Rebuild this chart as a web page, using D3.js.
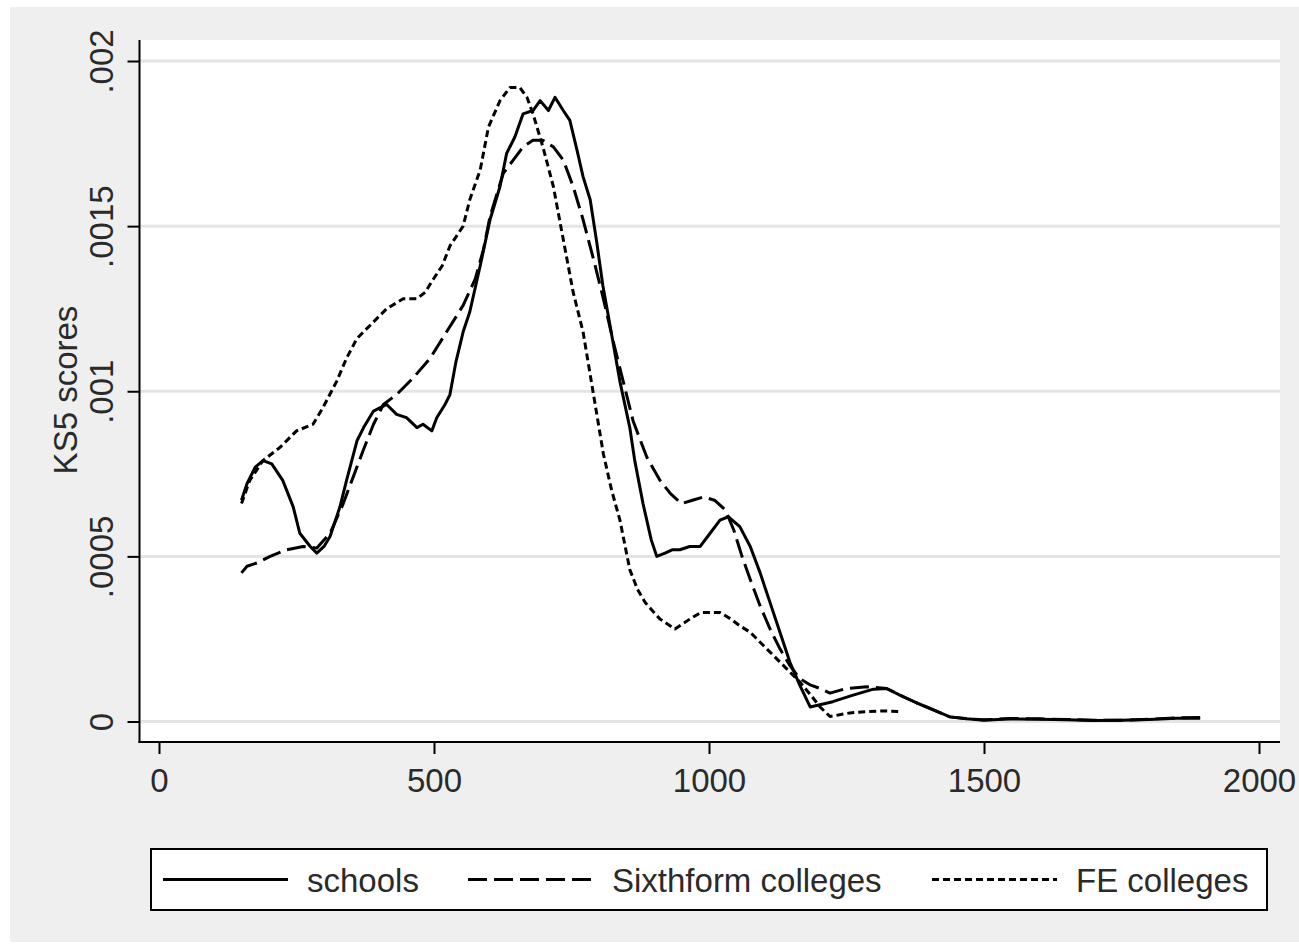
<!DOCTYPE html>
<html>
<head>
<meta charset="utf-8">
<script src="https://cdn.jsdelivr.net/npm/d3@7"></script>
<style>
  body { margin: 0; background: #ffffff; }
  text { font-family: "Liberation Sans", Arial, sans-serif; fill: #2a2a2a; }
</style>
</head>
<body>
<div class="chart"></div>
<script>
// kernel density of KS5 scores
var schools = [[150, .00067], [160, .00072], [175, .00077], [189, .00079], [205, .00078], [225, .00073],
  [244, .00065], [256, .00057], [275, .00053], [287, .00051], [300, .00053], [311, .00056], [329, .00065],
  [341, .00073], [360, .00085], [372, .00089], [390, .00094], [414, .00096], [432, .00093], [450, .00092],
  [469, .00089], [480, .0009], [496, .00088], [505, .00092], [520, .00096], [529, .00099], [540, .00109],
  [553, .00118], [565, .00124], [584, .00138], [602, .00152], [620, .00162], [632, .00172], [647, .00177],
  [662, .00184], [680, .00185], [693, .00188], [708, .00185], [720, .00189], [735, .00185], [747, .00182],
  [760, .00173], [771, .00165], [784, .00158], [796, .00145], [807, .00132], [820, .0012], [838, .00103],
  [856, .00089], [865, .00079], [880, .00066], [895, .00055], [905, .0005], [920, .00051], [933, .00052],
  [947, .00052], [965, .00053], [984, .00053], [1002, .00057], [1020, .00061], [1035, .00062], [1056, .00059],
  [1075, .00053], [1093, .00045], [1111, .00036], [1129, .00027], [1147, .00018], [1165, .00011], [1184, .000044],
  [1225, .00006], [1262, .00008], [1299, .000098], [1323, .0001], [1347, .00008], [1378, .000056], [1408, .000035],
  [1438, .000014], [1469, .000008], [1500, .000004], [1550, .000008], [1600, .000007], [1650, .000005],
  [1700, .000003], [1750, .000004], [1800, .000006], [1850, .00001], [1893, .00001]];

var sixthform = [[150, .00045], [160, .00047], [178, .00048], [202, .0005], [232, .00052], [262, .00053],
  [287, .000525], [311, .00057], [335, .00066], [353, .00074], [371, .00082], [390, .0009], [408, .00096],
  [432, .00099], [462, .00104], [493, .0011], [523, .00118], [553, .00126], [575, .00134], [590, .00143],
  [602, .00153], [626, .00166], [644, .0017], [662, .00174], [680, .00176], [698, .00176], [717, .00174],
  [735, .0017], [753, .00162], [771, .00152], [790, .0014], [808, .00128], [826, .00115], [844, .00103],
  [862, .00091], [887, .0008], [911, .00073], [930, .00069], [950, .00066], [970, .00067], [990, .00068],
  [1010, .00067], [1030, .00064], [1045, .00058], [1060, .0005], [1075, .00043], [1093, .00035], [1111, .00028],
  [1129, .00022], [1147, .00017], [1165, .00013], [1185, .00011], [1202, .0001], [1220, .000086], [1250, .0001],
  [1287, .000105], [1323, .0001], [1347, .00008], [1378, .000056], [1408, .000035], [1438, .000014],
  [1469, .000008], [1500, .000005], [1550, .000009], [1600, .000008], [1650, .000006], [1700, .000004],
  [1750, .000004], [1800, .000007], [1850, .000011], [1893, .000012]];

var feColleges = [[150, .00066], [165, .00073], [189, .00079], [220, .00083], [250, .00088], [280, .0009],
  [298, .00095], [323, .00103], [341, .0011], [360, .00116], [384, .0012], [414, .00125], [444, .00128],
  [469, .00128], [484, .0013], [499, .00134], [515, .00138], [529, .00144], [553, .0015], [565, .00158],
  [584, .00167], [599, .0018], [620, .00188], [638, .00192], [656, .00192], [669, .00189], [680, .00184],
  [698, .00174], [717, .00162], [735, .00146], [753, .0013], [771, .00118], [790, .00099], [808, .00081],
  [823, .0007], [838, .00061], [856, .00046], [870, .0004], [884, .00036], [911, .00031], [938, .00028],
  [965, .00031], [985, .00033], [1002, .00033], [1020, .00033], [1040, .00031], [1056, .00029], [1075, .00027],
  [1093, .00024], [1111, .00021], [1129, .00018], [1147, .00015], [1165, .00012], [1185, .00008], [1202, .000044],
  [1220, .000015], [1256, .000026], [1287, .00003], [1316, .000032], [1351, .00003]];

var seriesNames = ["schools", "Sixthform colleges", "FE colleges"];
var xTicks = [0, 500, 1000, 1500, 2000];
var yTicks = [0, .0005, .001, .0015, .002];
var yTitle = "KS5 scores";

var svgWidth = 1299;
var svgHeight = 949;

// plot region
var plot = { left: 140, right: 1280, top: 40, bottom: 742 };

var svg = d3.select(".chart")
    .append("svg")
    .attr("width", svgWidth)
    .attr("height", svgHeight);

// outer graph background
svg.append("rect")
    .attr("x", 10).attr("y", 7)
    .attr("width", 1289).attr("height", 935)
    .attr("fill", "#efefef");

svg.append("rect")
    .attr("x", plot.left).attr("y", plot.top)
    .attr("width", plot.right - plot.left).attr("height", plot.bottom - plot.top)
    .attr("fill", "#ffffff");

var xScale = d3.scaleLinear().domain([0, 2000]).range([159, 1259]);
var yScale = d3.scaleLinear().domain([0, .002]).range([721.5, 61]);

// gridlines
svg.append("g")
    .selectAll("line")
    .data(yTicks)
    .enter()
    .append("line")
    .attr("x1", plot.left).attr("x2", plot.right)
    .attr("y1", function (d) { return yScale(d); })
    .attr("y2", function (d) { return yScale(d); })
    .attr("stroke", "#e4e4e4")
    .attr("stroke-width", 3);

function fmt(d) {
    return d === 0 ? "0" : String(d).replace(/^0/, "");
}

// y axis
var yAxis = d3.axisLeft(yScale).tickValues(yTicks).tickFormat(fmt).tickSize(12).tickSizeOuter(0);
var yG = svg.append("g")
    .attr("transform", `translate(${plot.left - 0.5},0)`)
    .call(yAxis);
yG.select(".domain").remove();
yG.selectAll(".tick line").attr("stroke", "#000").attr("stroke-width", 2);
yG.selectAll(".tick text")
    .attr("transform", "rotate(-90)")
    .attr("x", 0).attr("y", -27).attr("dy", null)
    .attr("text-anchor", "middle")
    .attr("font-size", "33px")
    .attr("font-family", null)
    .attr("fill", "#2a2a2a");

// x axis
var xAxis = d3.axisBottom(xScale).tickValues(xTicks).tickFormat(d3.format("d")).tickSize(12).tickSizeOuter(0);
var xG = svg.append("g")
    .attr("transform", `translate(0,${plot.bottom})`)
    .call(xAxis);
xG.select(".domain").remove();
xG.selectAll(".tick line").attr("stroke", "#000").attr("stroke-width", 2);
xG.selectAll(".tick text")
    .attr("y", 50).attr("dy", null)
    .attr("font-size", "33px")
    .attr("font-family", null)
    .attr("fill", "#2a2a2a");

// axis lines
svg.append("line")
    .attr("x1", plot.left - 0.5).attr("x2", plot.left - 0.5)
    .attr("y1", plot.top).attr("y2", plot.bottom + 1)
    .attr("stroke", "#000").attr("stroke-width", 2);
svg.append("line")
    .attr("x1", plot.left - 1.5).attr("x2", plot.right)
    .attr("y1", plot.bottom).attr("y2", plot.bottom)
    .attr("stroke", "#000").attr("stroke-width", 2);

// y title
svg.append("text")
    .attr("transform", "translate(77,390) rotate(-90)")
    .attr("text-anchor", "middle")
    .attr("font-size", "33px")
    .text(yTitle);

// density lines
var line = d3.line()
    .x(function (d) { return xScale(d[0]); })
    .y(function (d) { return yScale(d[1]); });

var dashes = [null, "19,7", "7,4"];
var data = [schools, sixthform, feColleges];

svg.append("g")
    .selectAll("path")
    .data(data)
    .enter()
    .append("path")
    .attr("d", line)
    .attr("fill", "none")
    .attr("stroke", "#000")
    .attr("stroke-width", 3)
    .attr("stroke-linejoin", "round")
    .attr("stroke-dasharray", function (d, i) { return dashes[i]; });

// legend
var legend = svg.append("g");
legend.append("rect")
    .attr("x", 151).attr("y", 849)
    .attr("width", 1116).attr("height", 61)
    .attr("fill", "#fff")
    .attr("stroke", "#000")
    .attr("stroke-width", 2);

var legendX = [163, 468, 932];
legendX.forEach(function (x0, i) {
    legend.append("line")
        .attr("x1", x0).attr("x2", x0 + 125)
        .attr("y1", 879.5).attr("y2", 879.5)
        .attr("stroke", "#000")
        .attr("stroke-width", 3)
        .attr("stroke-dasharray", dashes[i]);
    legend.append("text")
        .attr("x", x0 + 144)
        .attr("y", 892)
        .attr("font-size", "33px")
        .text(seriesNames[i]);
});
</script>
</body>
</html>
